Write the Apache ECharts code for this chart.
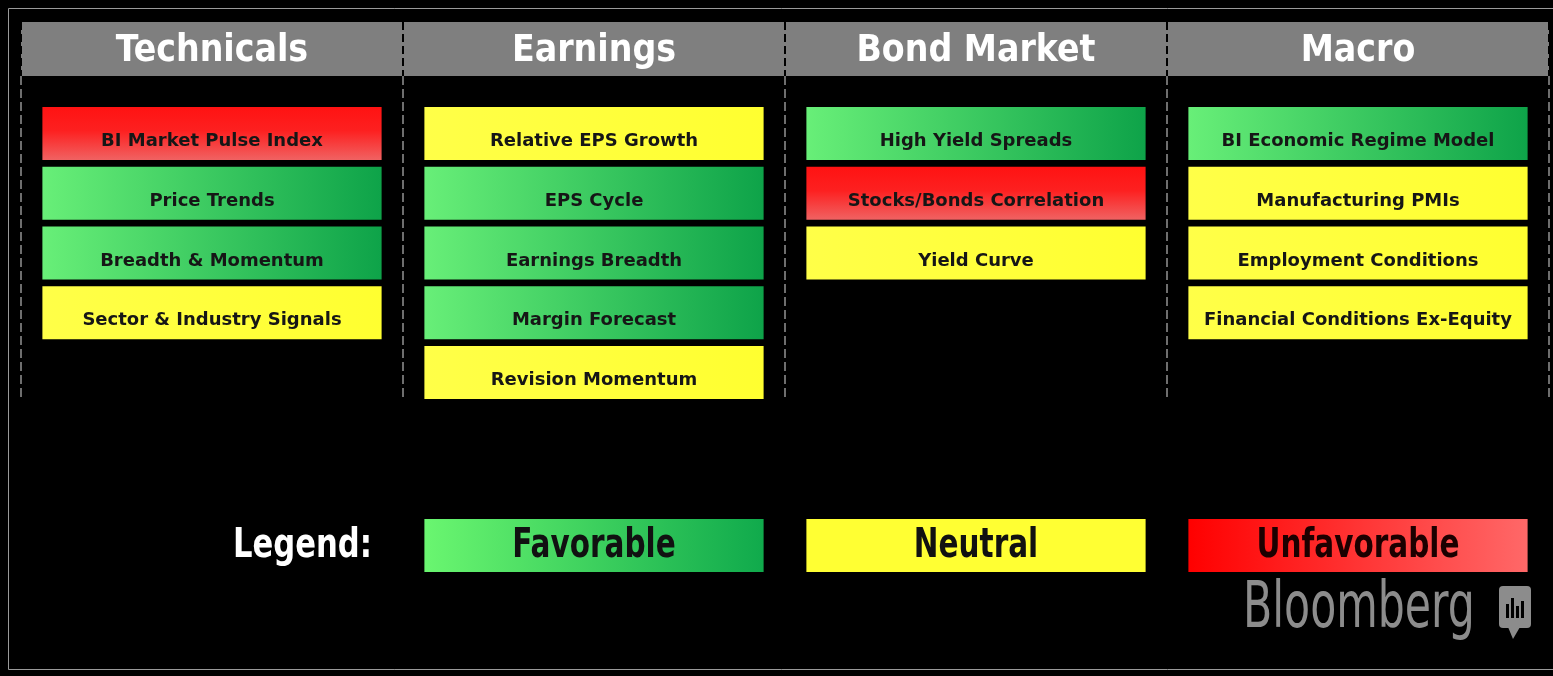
<!DOCTYPE html>
<html>
<head>
<meta charset="utf-8">
<title>Market signals dashboard</title>
<script src="https://cdn.jsdelivr.net/npm/echarts@6/dist/echarts.min.js"></script>
<style>
    html, body { margin: 0; padding: 0; background: #000; }
    #main { width: 1553px; height: 676px; }
</style>
</head>
<body>
<div id="main"></div>
<script>
// columns of the board
var columns = ['Technicals', 'Earnings', 'Bond Market', 'Macro'];

// indicators per column, top to bottom
var technicals = ['BI Market Pulse Index', 'Price Trends', 'Breadth & Momentum', 'Sector & Industry Signals'];
var technicalsStatus = ['Unfavorable', 'Favorable', 'Favorable', 'Neutral'];

var earnings = ['Relative EPS Growth', 'EPS Cycle', 'Earnings Breadth', 'Margin Forecast', 'Revision Momentum'];
var earningsStatus = ['Neutral', 'Favorable', 'Favorable', 'Favorable', 'Neutral'];

var bondMarket = ['High Yield Spreads', 'Stocks/Bonds Correlation', 'Yield Curve'];
var bondMarketStatus = ['Favorable', 'Unfavorable', 'Neutral'];

var macro = ['BI Economic Regime Model', 'Manufacturing PMIs', 'Employment Conditions', 'Financial Conditions Ex-Equity'];
var macroStatus = ['Favorable', 'Neutral', 'Neutral', 'Neutral'];

var legendTitle = 'Legend:';
var legendItems = ['Favorable', 'Neutral', 'Unfavorable'];

var NARROW = '"Liberation Sans Narrow", "DejaVu Sans Condensed", "Arial Narrow", sans-serif';
var WIDE = '"DejaVu Sans", Verdana, sans-serif';

// box fills
var boxFill = {
    Favorable: { type: 'linear', x: 0, y: 0, x2: 1, y2: 0, colorStops: [{ offset: 0, color: '#68ef78' }, { offset: 1, color: '#0ea349' }] },
    Neutral: { type: 'linear', x: 0, y: 0, x2: 1, y2: 0, colorStops: [{ offset: 0, color: '#ffff48' }, { offset: 1, color: '#ffff30' }] },
    Unfavorable: { type: 'linear', x: 0, y: 0, x2: 0, y2: 1, colorStops: [{ offset: 0, color: '#ff1212' }, { offset: 0.45, color: '#fd2020' }, { offset: 1, color: '#f06262' }] }
};
var legendFill = {
    Favorable: { type: 'linear', x: 0, y: 0, x2: 1, y2: 0, colorStops: [{ offset: 0, color: '#6af670' }, { offset: 1, color: '#10aa4c' }] },
    Neutral: '#ffff33',
    Unfavorable: { type: 'linear', x: 0, y: 0, x2: 1, y2: 0, colorStops: [{ offset: 0, color: '#ff0000' }, { offset: 1, color: '#ff6868' }] }
};

var names = [technicals, earnings, bondMarket, macro];
var states = [technicalsStatus, earningsStatus, bondMarketStatus, macroStatus];
var boxData = [];
names.forEach(function (list, col) {
    list.forEach(function (name, row) {
        boxData.push([col, row, name, states[col][row]]);
    });
});

var legendData = [[0, 0.5, legendTitle, '']];
legendItems.forEach(function (item, i) {
    legendData.push([i + 1, 0.5, item, item]);
});

function renderBox(params, api) {
    var d = boxData[params.dataIndex];
    var c = api.coord([api.value(0), api.value(1)]);
    var s = api.size([1, 1]);
    var w = s[0] * 0.888, h = s[1] * 0.887;
    return {
        type: 'group',
        children: [{
            type: 'rect',
            shape: { x: c[0] - w / 2, y: c[1] - h / 2, width: w, height: h },
            style: { fill: boxFill[d[3]] }
        }, {
            type: 'text',
            x: c[0], y: c[1] + 8,
            style: {
                text: d[2], fill: '#161616', align: 'center', verticalAlign: 'middle',
                font: 'bold 18px ' + WIDE,
                shadowColor: 'rgba(0,0,0,0.45)', shadowBlur: 2
            }
        }]
    };
}

function renderLegend(params, api) {
    var d = legendData[params.dataIndex];
    var c = api.coord([api.value(0), api.value(1)]);
    var s = api.size([1, 1]);
    if (!d[3]) {
        return {
            type: 'text',
            x: c[0] + s[0] / 2 - 31, y: c[1] + 1,
            scaleX: 0.83,
            style: { text: d[2], fill: '#fff', align: 'right', verticalAlign: 'middle', font: 'bold 41px ' + NARROW }
        };
    }
    var w = s[0] * 0.888, h = s[1];
    return {
        type: 'group',
        children: [{
            type: 'rect',
            shape: { x: c[0] - w / 2, y: c[1] - h / 2, width: w, height: h },
            style: { fill: legendFill[d[3]] }
        }, {
            type: 'text',
            x: c[0], y: c[1] + 1,
            scaleX: 0.8,
            style: {
                text: d[2], fill: d[3] === 'Unfavorable' ? '#1c0000' : '#111',
                align: 'center', verticalAlign: 'middle', font: 'bold 41px ' + NARROW
            }
        }]
    };
}

var myChart = echarts.init(document.getElementById('main'));

var option = {
    backgroundColor: '#000',
    animation: false,
    grid: [
        { left: 21, width: 1528, top: 22, height: 54, show: true, backgroundColor: '#7f7f7f', borderWidth: 0 },
        { left: 21, width: 1528, top: 76, height: 324 },
        { left: 21, width: 1528, top: 519, height: 53 }
    ],
    xAxis: [{
        gridIndex: 0,
        type: 'category',
        position: 'top',
        data: columns,
        axisLine: { show: false },
        axisTick: { show: false },
        axisLabel: {
            inside: true, margin: 11, interval: 0,
            color: '#fff', fontSize: 37, fontWeight: 'bold', fontFamily: NARROW
        },
        splitLine: { show: true, interval: 0, lineStyle: { color: '#000', width: 2, type: [8, 4] } }
    }, {
        gridIndex: 1,
        type: 'category',
        data: columns,
        axisLine: { show: false },
        axisTick: { show: false },
        axisLabel: { show: false },
        splitLine: { show: true, interval: 0, lineStyle: { color: '#6e6e6e', width: 2, type: [9, 4] } }
    }, {
        gridIndex: 2,
        type: 'category',
        data: columns,
        show: false
    }],
    yAxis: [
        { gridIndex: 0, type: 'value', show: false },
        { gridIndex: 1, type: 'value', inverse: true, min: -0.96, max: 4.46, show: false },
        { gridIndex: 2, type: 'value', inverse: true, min: 0, max: 1, show: false }
    ],
    series: [{
        type: 'custom',
        xAxisIndex: 1,
        yAxisIndex: 1,
        data: boxData,
        renderItem: renderBox,
        silent: true
    }, {
        type: 'custom',
        xAxisIndex: 2,
        yAxisIndex: 2,
        data: legendData,
        renderItem: renderLegend,
        silent: true
    }],
    graphic: [{
        type: 'rect',
        z: 100,
        shape: { x: 8.5, y: 8.5, width: 1600, height: 661 },
        style: { fill: 'none', stroke: '#9a9a9a', lineWidth: 1 }
    }, {
        type: 'text',
        x: 1243,
        y: 578,
        scaleX: 0.74,
        style: { text: 'Bloomberg', fill: '#8c8c8c', font: '64px ' + NARROW, align: 'left', verticalAlign: 'top' }
    }, {
        type: 'group',
        x: 1499,
        y: 586,
        children: [{
            type: 'rect',
            shape: { x: 0, y: 0, width: 32, height: 42, r: 4 },
            style: { fill: '#8c8c8c' }
        }, {
            type: 'polygon',
            shape: { points: [[9, 41], [21, 41], [14, 53]] },
            style: { fill: '#8c8c8c' }
        }, {
            type: 'rect', shape: { x: 7, y: 18, width: 3, height: 14 }, style: { fill: '#000' }
        }, {
            type: 'rect', shape: { x: 12, y: 12, width: 3, height: 20 }, style: { fill: '#000' }
        }, {
            type: 'rect', shape: { x: 17, y: 20, width: 3, height: 12 }, style: { fill: '#000' }
        }, {
            type: 'rect', shape: { x: 22, y: 15, width: 3, height: 17 }, style: { fill: '#000' }
        }]
    }]
};

myChart.setOption(option);
</script>
</body>
</html>
